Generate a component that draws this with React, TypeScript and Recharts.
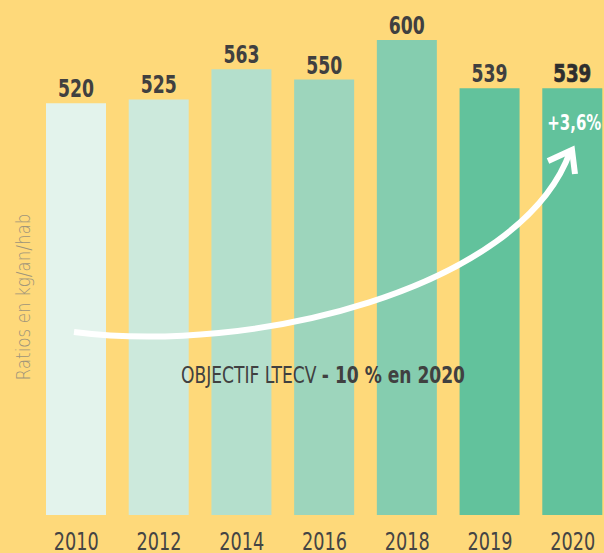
import React from "react";
import { BarChart, Bar, XAxis, YAxis, Cell, LabelList } from "recharts";

const years = ["2010", "2012", "2014", "2016", "2018", "2019", "2020"];
const ratios = [520, 525, 563, 550, 600, 539, 539];
const barColors = [
  "#E3F3EC",
  "#CCE9DC",
  "#B4DFCC",
  "#9DD5BC",
  "#85CDAF",
  "#62C29C",
  "#62C29C",
];
const yLabel = "Ratios en kg/an/hab";
const objectifText = "OBJECTIF LTECV";
const objectifBold = "- 10 % en 2020";
const evolution = "+3,6%";

const data = years.map((year, i) => ({ year, ratio: ratios[i] }));

const FONT = "'DejaVu Sans Condensed', 'DejaVu Sans', sans-serif";
const BG = "#FED97A";

const ValueLabel = (props: any) => {
  const { x, y, width, value, index } = props;
  const last = index === ratios.length - 1;
  return (
    <text
      x={x + width / 2}
      y={y - 6}
      textAnchor="middle"
      fontFamily={FONT}
      fontSize={25}
      fontWeight="bold"
      textLength={last ? 38 : 36}
      lengthAdjust="spacingAndGlyphs"
      fill={last ? "#2e2e2e" : "#404040"}
      stroke={last ? "#2e2e2e" : "none"}
      strokeWidth={last ? 0.7 : 0}
    >
      {value}
    </text>
  );
};

const EvolutionLabel = (props: any) => {
  const { x, y, width, index } = props;
  if (index !== ratios.length - 1) return null;
  return (
    <text
      x={x + width / 2 + 2}
      y={y + 42}
      textAnchor="middle"
      fontFamily={FONT}
      fontSize={22}
      fontWeight="bold"
      textLength={54}
      lengthAdjust="spacingAndGlyphs"
      fill="#ffffff"
    >
      {evolution}
    </text>
  );
};

const YearTick = (props: any) => {
  const { x, y, payload } = props;
  return (
    <text
      x={x}
      y={y + 27}
      textAnchor="middle"
      fontFamily={FONT}
      fontSize={25}
      textLength={45}
      lengthAdjust="spacingAndGlyphs"
      fill="#444444"
    >
      {payload.value}
    </text>
  );
};

const Overlay = () => (
  <svg
    width={604}
    height={553}
    style={{ position: "absolute", left: 0, top: 0, pointerEvents: "none" }}
  >
    <path
      d="M 74 332 C 250 355, 520 290, 570 152"
      fill="none"
      stroke="#ffffff"
      strokeWidth={6}
    />
    <polyline
      points="548,161 572,150 575,174"
      fill="none"
      stroke="#ffffff"
      strokeWidth={6}
      strokeLinejoin="miter"
    />
    <text
      x={323}
      y={383}
      textAnchor="middle"
      fontFamily={FONT}
      fontSize={23}
      textLength={284}
      lengthAdjust="spacingAndGlyphs"
      fill="#404040"
    >
      {objectifText + " "}
      <tspan fontWeight="bold">{objectifBold}</tspan>
    </text>
    <text
      x={0}
      y={0}
      transform="translate(30 297) rotate(-90)"
      textAnchor="middle"
      fontFamily="'DejaVu Sans ExtraLight', 'DejaVu Sans', sans-serif"
      fontWeight={200}
      fontSize={20}
      textLength={167}
      lengthAdjust="spacingAndGlyphs"
      fill="#9f957a"
    >
      {yLabel}
    </text>
  </svg>
);

export default function App() {
  return (
    <div
      style={{
        position: "absolute",
        left: 0,
        top: 0,
        width: 604,
        height: 553,
        overflow: "hidden",
        background: BG,
      }}
    >
      <BarChart
        width={614}
        height={553}
        data={data}
        margin={{ top: 40, right: 0, left: 35, bottom: 0 }}
      >
        <XAxis
          dataKey="year"
          height={38}
          axisLine={false}
          tickLine={false}
          interval={0}
          tick={YearTick}
        />
        <YAxis hide domain={[0, 600]} />
        <Bar dataKey="ratio" barSize={60} isAnimationActive={false}>
          {data.map((d, i) => (
            <Cell key={d.year} fill={barColors[i]} />
          ))}
          <LabelList dataKey="ratio" content={ValueLabel} />
          <LabelList dataKey="ratio" content={EvolutionLabel} />
        </Bar>
      </BarChart>
      <Overlay />
    </div>
  );
}
